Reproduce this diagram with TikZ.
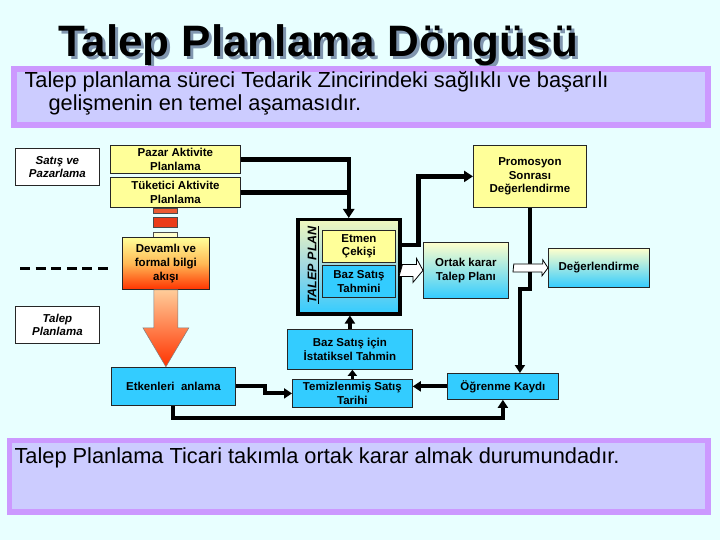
\documentclass[tikz,border=0pt]{standalone}
\usepackage{fontspec}
\setmainfont{Liberation Sans}
\usetikzlibrary{arrows.meta,calc,shadings}
\definecolor{bgc}{RGB}{232,255,255}
\definecolor{pborder}{RGB}{204,153,255}
\definecolor{lav}{RGB}{204,204,255}
\definecolor{ylw}{RGB}{255,255,153}
\definecolor{lylw}{RGB}{255,255,204}
\definecolor{cyn}{RGB}{51,204,255}
\definecolor{redor}{RGB}{255,51,0}
\definecolor{orng}{RGB}{255,185,85}
\definecolor{peach}{RGB}{255,204,153}
\definecolor{redA}{RGB}{235,90,50}
\definecolor{redB}{RGB}{235,60,25}
\definecolor{shadowc}{RGB}{128,150,175}
\definecolor{tptop}{RGB}{240,248,190}
\definecolor{tpmid}{RGB}{160,215,225}
\newcommand{\titletext}{Talep Planlama Döngüsü}
\begin{document}
\begin{tikzpicture}[x=1pt,y=-1pt,
  box/.style={draw=black!85, line width=0.8pt, inner sep=1pt, align=center, anchor=north west,
    font=\bfseries\fontsize{11.5}{13.5}\selectfont},
  ybox/.style={box, fill=ylw},
  cbox/.style={box, fill=cyn},
  gbox/.style={box, top color=lylw, bottom color=cyn},
  wbox/.style={box, fill=white, font=\bfseries\itshape\fontsize{11.5}{13.5}\selectfont},
  seg/.style={draw=black!70, line width=0.5pt, inner sep=0pt, anchor=north west, minimum width=24},
  conn/.style={line width=4.5pt, -{Triangle[length=9pt,width=11pt]}},
  connl/.style={line width=4.5pt},
  connb/.style={line width=4pt, -{Triangle[length=8pt,width=10pt]}},
  conns/.style={line width=3.5pt, -{Triangle[length=6pt,width=9pt]}},
  hollow/.style={draw=black, fill=white, line width=0.8pt, line join=miter},
  purplebox/.style={draw=pborder, fill=lav, inner sep=0pt, anchor=north west},
  bigtext/.style={anchor=base west, font=\fontsize{21.8}{24}\selectfont}
]
\useasboundingbox (0,0) rectangle (720,540);
\fill[bgc] (0,0) rectangle (720,540);

% title with its shadow, as one text
\node[anchor=base, inner sep=0pt, font=\bfseries\fontsize{44}{44}\selectfont] (title) at (318,57)
  {\rlap{\hspace{3pt}\raisebox{-3pt}{\textcolor{shadowc}{\titletext}}}\titletext};

% top text box
\node[purplebox, line width=6pt, minimum width=694, minimum height=56] (topbox) at (11,66) {};
\node[bigtext] (top1) at (21,88) {Talep planlama süreci Tedarik Zincirindeki sağlıklı ve başarılı};
\node[bigtext] (top2) at (45,111) {gelişmenin en temel aşamasıdır.};

% bottom text box
\node[purplebox, line width=5.5pt, minimum width=698.5, minimum height=71.5] (botbox) at (6.75,437.75) {};
\node[bigtext] (bot1) at (11,463) {Talep Planlama Ticari takımla ortak karar almak durumundadır.};

% left labels
\node[wbox, minimum width=84, minimum height=37] (satis) at (15,148) {Satış ve\\Pazarlama};
\node[wbox, minimum width=84, minimum height=37] (talepp) at (15,306) {Talep\\Planlama};
\coordinate (d1) at (20,268);
\coordinate (d2) at (108,268);
\draw[line width=3pt, dash pattern=on 10pt off 5.6pt] (d1) -- (d2);

% activity boxes
\node[ybox, minimum width=130, minimum height=28] (pazar) at (110,145) {Pazar Aktivite\\Planlama};
\node[ybox, minimum width=130, minimum height=30] (tuketici) at (110,177) {Tüketici Aktivite\\Planlama};

% information flow column
\node[seg, fill=redA, minimum height=5] (s1) at (153,208) {};
\node[seg, fill=redB, minimum height=10] (s2) at (153,217) {};
\node[seg, fill=lylw, minimum height=5] (s3) at (153,232) {};
\node[box, minimum width=87, minimum height=52, top color=ylw, bottom color=redor, middle color=orng,
  font=\bfseries\fontsize{11.5}{14}\selectfont] (devamli) at (122,237) {Devamlı ve\\formal bilgi\\akışı};
\node[cbox, minimum width=124, minimum height=38] (etkenleri) at (111,367) {Etkenleri\ \ anlama};
\shade[top color=peach, bottom color=redor, draw=black!50, line width=0.5pt]
  ($(devamli.south)+(-12,0)$) -- ++(24,0) -- ++(0,38) -- ++(11,0) -- ++(-23,39) -- ++(-23,-39) -- ++(11,0) -- cycle;

% TALEP PLAN block
\node[anchor=north west, draw=black, line width=3.5pt, minimum width=102, minimum height=94, inner sep=0pt,
  top color=tptop, bottom color=cyn, middle color=tpmid] (tp) at (296,218) {};
\node[rotate=90, font=\bfseries\itshape\fontsize{12.5}{12.5}\selectfont] (tpt) at (313,265) {\underline{TALEP PLAN}};
\node[ybox, minimum width=73, minimum height=32] (etmen) at (322,230) {Etmen\\Çekişi};
\node[cbox, minimum width=73, minimum height=32] (baz) at (322,265) {Baz Satış\\Tahmini};

% right boxes
\node[ybox, minimum width=113, minimum height=62] (promo) at (473,145) {Promosyon\\Sonrası\\Değerlendirme};
\node[gbox, minimum width=85, minimum height=56] (ortak) at (423,242) {Ortak karar\\Talep Planı};
\node[gbox, minimum width=101, minimum height=39] (deger) at (548,248) {Değerlendirme};

% lower boxes
\node[cbox, minimum width=125, minimum height=40] (istat) at (287,329) {Baz Satış için\\İstatiksel Tahmin};
\node[cbox, minimum width=120, minimum height=28] (temiz) at (292,379) {Temizlenmiş Satış\\Tarihi};
\node[cbox, minimum width=111, minimum height=26] (ogrenme) at (447,373) {Öğrenme Kaydı};

% connectors
\draw[conn] (pazar.east) -| (tp.north);
\draw[connl] (tuketici.east) -- (tuketici.east -| tp.north);
\draw[conn] ($(tp.north east)+(0,27)$) -- ++(17,0) |- (promo.west);
\draw[connb] (promo.south) -- ++(0,81) -- ++(-10,0) -- ($(ogrenme.north)+(17,0)$);
\draw[connb] (istat.north) -- (istat.north |- tp.south);
\draw[conns] (temiz.north) -- (temiz.north |- istat.south);
\draw[connb] (ogrenme.west) -- (ogrenme.west -| temiz.east);
\draw[connb] (etkenleri.east) -- ++(29,0) |- (temiz.west);
\draw[connb] (etkenleri.south) -- ++(0,12) -| (ogrenme.south);

% hollow arrows
\draw[hollow] ($(tp.east |- ortak.west)+(1,-6)$) -- ++(14,0) -- ++(0,-6) -- (ortak.west) -- ++(-10,12) -- ++(0,-6) -- ++(-14,0) -- cycle;
\draw[hollow] ($(ortak.east |- deger.west)+(5,-4)$) -- ++(29,0) -- ++(0,-4) -- (deger.west) -- ++(-6,8) -- ++(0,-4) -- ++(-29,0) -- cycle;
\end{tikzpicture}
\end{document}
